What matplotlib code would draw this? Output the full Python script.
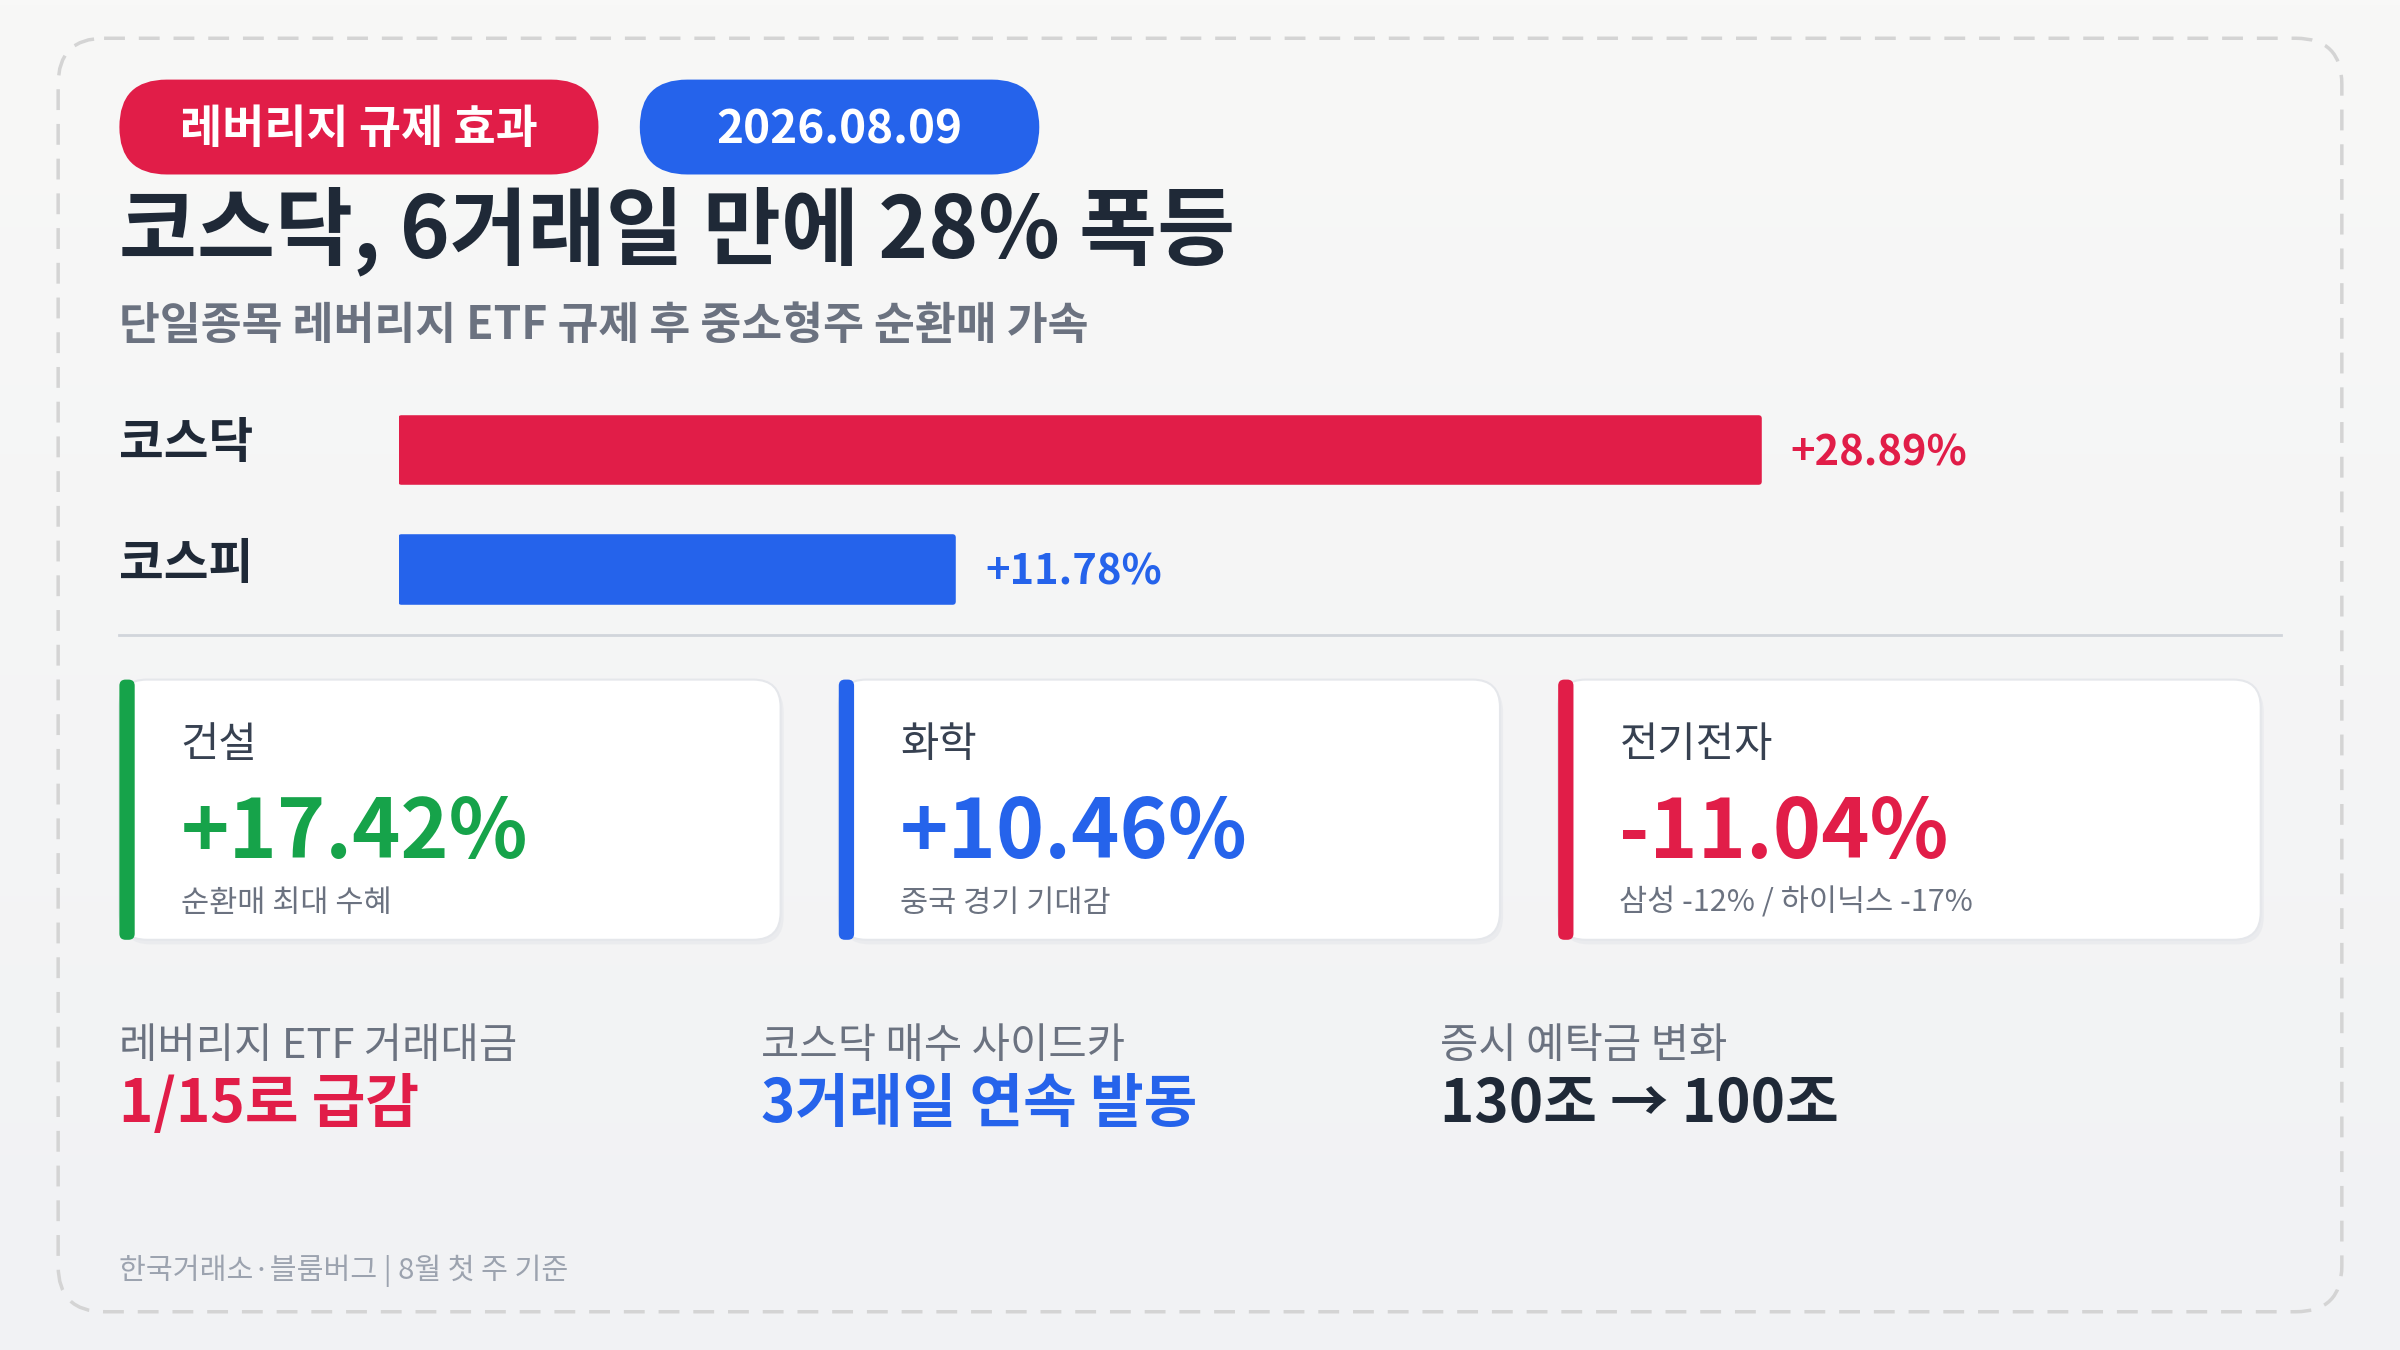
import matplotlib
matplotlib.use("Agg")
import matplotlib.pyplot as plt
from matplotlib.patches import FancyBboxPatch
import numpy as np

plt.rcParams['font.family'] = ['Noto Sans CJK KR', 'DejaVu Sans']

# ---- data ----
index_names = ["코스닥", "코스피"]
index_values = [28.89, 11.78]
index_labels = ["+28.89%", "+11.78%"]
sector_names = ["건설", "화학", "전기전자"]
sector_values = ["+17.42%", "+10.46%", "-11.04%"]
sector_notes = ["순환매 최대 수혜", "중국 경기 기대감", "삼성 -12% / 하이닉스 -17%"]
stat_labels = ["레버리지 ETF 거래대금", "코스닥 매수 사이드카", "증시 예탁금 변화"]
stat_values = ["1/15로 급감", "3거래일 연속 발동", "130조 → 100조"]

RED, BLUE, GREEN, DARK, GRAY = "#e11d48", "#2563eb", "#16a34a", "#1f2937", "#6b7280"
index_colors = [RED, BLUE]
sector_colors = [GREEN, BLUE, RED]
stat_colors = [RED, BLUE, DARK]

fig = plt.figure(figsize=(24, 13.5), dpi=100)
bg = fig.add_axes([0, 0, 1, 1])
bg.set_xlim(0, 1568); bg.set_ylim(882, 0); bg.axis('off')
grad = np.linspace(0, 1, 256).reshape(-1, 1)
bg.imshow(grad, extent=[0, 1568, 882, 0], cmap=matplotlib.colors.LinearSegmentedColormap.from_list('g', ['#f8f8f7', '#f1f2f4']), aspect='auto', zorder=0)

bg.add_patch(FancyBboxPatch((38, 25), 1492, 832, boxstyle="round,pad=0,rounding_size=30",
                            fill=False, ec="#d4d4d4", lw=2.5, ls=(0, (6, 4)), zorder=1))
# pills
for (x0, x1, c, t) in [(78, 391, RED, "레버리지 규제 효과"), (418, 679, BLUE, "2026.08.09")]:
    bg.add_patch(FancyBboxPatch((x0, 52), x1 - x0, 62, boxstyle="round,pad=0,rounding_size=31", fc=c, ec='none', zorder=2))
    bg.text((x0 + x1) / 2, 85, t, color='white', fontsize=33, fontweight='bold', ha='center', va='center', zorder=3)

bg.text(78, 151, "코스닥, 6거래일 만에 28% 폭등", fontsize=61, fontweight='bold', color=DARK, va='center')
bg.text(78, 213, "단일종목 레버리지 ETF 규제 후 중소형주 순환매 가속", fontsize=32, fontweight='bold', color=GRAY, va='center')

for n, y in zip(index_names, [290, 369]):
    bg.text(78, y, n, fontsize=35, fontweight='bold', color=DARK, va='center')

bg.plot([78, 1490], [415, 415], color="#d1d5db", lw=2)

# cards
card_x = [(78, 510), (548, 980), (1018, 1477)]
for (x0, x1), c, n, v, s in zip(card_x, sector_colors, sector_names, sector_values, sector_notes):
    bg.add_patch(FancyBboxPatch((x0 + 2, 447), x1 - x0, 170, boxstyle="round,pad=0,rounding_size=18", fc="#e5e7eb", ec='none', alpha=0.6, zorder=2))
    bg.add_patch(FancyBboxPatch((x0, 444), x1 - x0, 170, boxstyle="round,pad=0,rounding_size=18", fc='white', ec="#e5e7eb", lw=1.5, zorder=3))
    bg.add_patch(FancyBboxPatch((x0, 444), 10, 170, boxstyle="round,pad=0,rounding_size=4", fc=c, ec='none', zorder=4))
    bg.text(x0 + 40, 487, n, fontsize=30, color="#374151", va='center', zorder=5)
    bg.text(x0 + 40, 545, v, fontsize=59, fontweight='bold', color=c, va='center', zorder=5)
    bg.text(x0 + 40, 590, s, fontsize=22, color=GRAY, va='center', zorder=5)

for x, l, v, c in zip([78, 497, 941], stat_labels, stat_values, stat_colors):
    bg.text(x, 684, l, fontsize=30, color=GRAY, va='center')
    bg.text(x, 722, v, fontsize=42, fontweight='bold', color=c, va='center')

bg.text(78, 830, "한국거래소·블룸버그 | 8월 첫 주 기준", fontsize=21, color="#9ca3af", va='center')

# bar chart
ax = fig.add_axes([261 / 1568, 1 - 410 / 882, (1490 - 261) / 1568, 150 / 882])
ax.set_facecolor('none')
scale = 30.77
ax.set_xlim(0, (1490 - 261) / scale)
ax.set_ylim(410, 260)
ys = [294, 372]
bars = ax.barh(ys, [v - 0.05 for v in index_values], height=42, color=index_colors, left=0.025,
               edgecolor=index_colors, linewidth=4, joinstyle='round')
for y, val, lab, c in zip(ys, index_values, index_labels, index_colors):
    ax.text(val + 20 / scale, y + 2, lab, fontsize=30, fontweight='bold', color=c, va='center')
ax.axis('off')

fig.savefig("out.png", dpi=100)
